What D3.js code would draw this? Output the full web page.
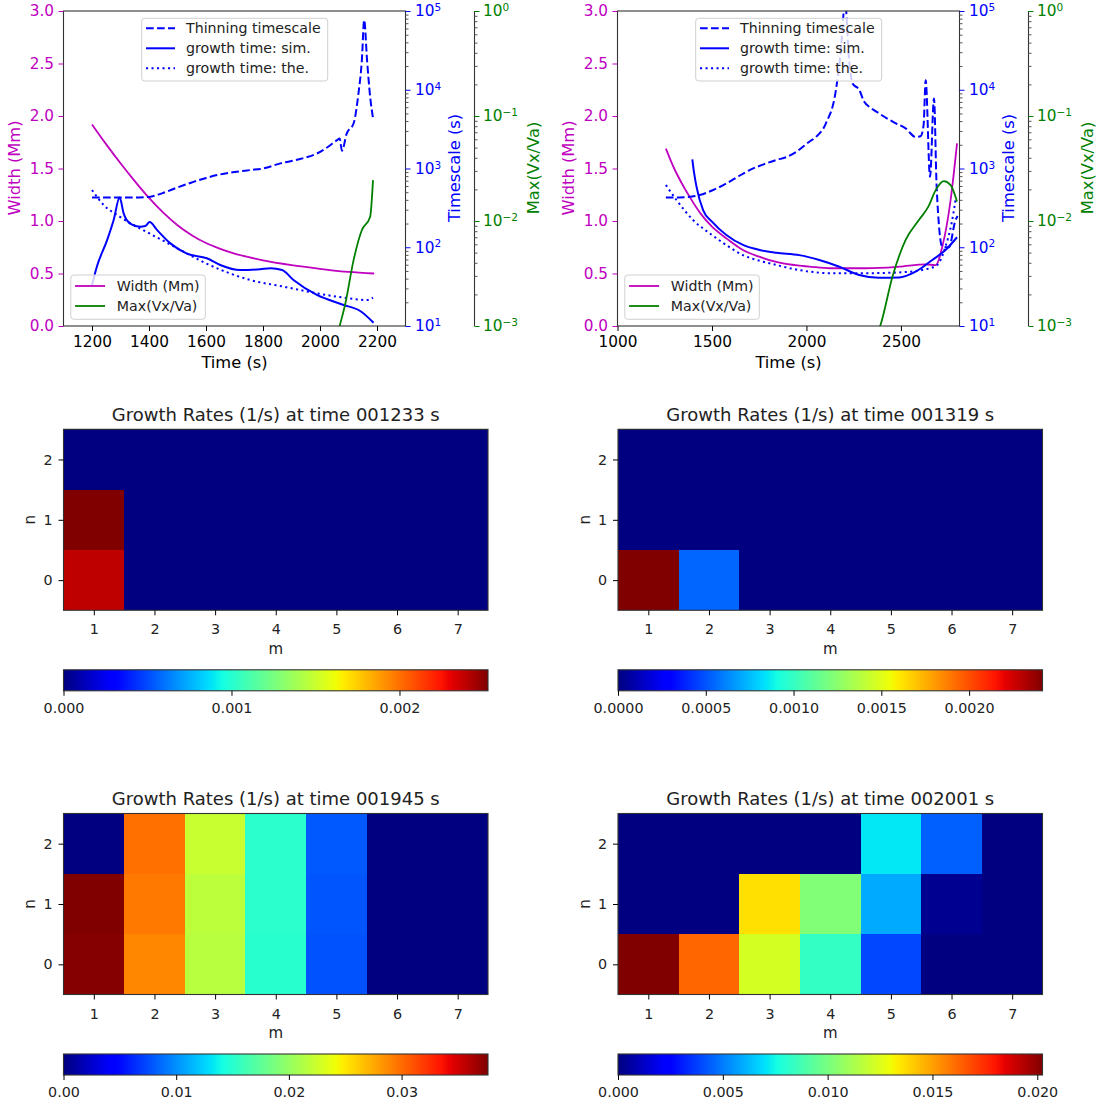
<!DOCTYPE html>
<html>
<head>
<meta charset="utf-8">
<script src="https://cdn.jsdelivr.net/npm/d3@7"></script>
<style>
body { margin: 0; background: #fff; }
text { font-family: "DejaVu Sans", sans-serif; }
</style>
</head>
<body>
<div id="chart"></div>
<script>
// ---- data ----
// left top panel: [time (s), value]
const leftWidth = [[1200,1.92],[1250,1.73],[1300,1.55],[1350,1.38],[1400,1.22],[1450,1.08],[1500,0.96],[1550,0.865],[1600,0.79],[1650,0.735],[1700,0.69],[1750,0.655],[1800,0.625],[1900,0.58],[2000,0.545],[2100,0.515],[2190,0.50]];
const leftThinning = [[1200,427],[1250,427],[1300,427],[1350,427],[1400,436],[1450,490],[1500,575],[1550,665],[1600,759],[1650,841],[1700,902],[1755,955],[1800,1000],[1861,1161],[1930,1318],[1989,1549],[2030,1905],[2060,2291],[2069,2399],[2077,1683],[2094,2799],[2118,3750],[2135,9016],[2147,23990],[2155,76900],[2165,24000],[2176,8130],[2186,4365]];
const leftSim = [[1200,33],[1217,56.6],[1253,123],[1276,222],[1297,427],[1311,269],[1334,200],[1369,182],[1387,186],[1402,209],[1428,166],[1475,112],[1533,83],[1603,72.4],[1650,59.6],[1720,51.3],[1790,52.5],[1826,54],[1867,51.3],[1907,38.4],[1989,24.8],[2083,18.5],[2141,15.5],[2188,11]];
const leftTheory = [[1200,533],[1241,344],[1297,245],[1400,151],[1500,97],[1600,62.5],[1755,38.4],[1872,31.6],[1989,26],[2083,22.9],[2165,21.4],[2186,22.9]];
const leftMaxV = [[2060,0.0008],[2069,0.001],[2089,0.00164],[2118,0.00426],[2147,0.0082],[2176,0.011],[2186,0.0245]];

// right top panel
const rightWidth = [[1256,1.69],[1300,1.50],[1340,1.36],[1382,1.23],[1440,1.07],[1500,0.946],[1580,0.83],[1664,0.724],[1750,0.66],[1840,0.61],[1962,0.574],[2050,0.56],[2138,0.55],[2314,0.55],[2490,0.565],[2631,0.587],[2684,0.58],[2719,0.755],[2763,1.2],[2797,1.74]];
const rightThinning = [[1256,427],[1303,427],[1350,432],[1435,460],[1500,525],[1576,646],[1640,794],[1699,955],[1770,1122],[1840,1282],[1900,1413],[1945,1622],[2015,2188],[2050,2512],[2103,3750],[2156,9930],[2182,32000],[2200,112000],[2205,126000],[2225,25000],[2244,12000],[2279,10000],[2305,7080],[2340,5900],[2384,5010],[2430,4270],[2473,3750],[2525,3236],[2578,2512],[2604,2570],[2620,3550],[2631,13180],[2654,787],[2675,7760],[2689,589],[2719,102],[2754,100],[2789,222],[2800,250]];
const rightSim = [[1396,1309],[1405,891],[1418,589],[1453,297],[1500,211],[1576,143],[1664,107],[1752,92.3],[1840,85.1],[1962,79.4],[2068,68.9],[2174,56.6],[2279,44.5],[2384,41],[2490,41.4],[2578,49],[2666,68.9],[2736,92.3],[2797,134]];
const rightTheory = [[1256,617],[1312,398],[1400,222],[1500,143],[1580,105],[1664,79.4],[1750,67.6],[1840,59.6],[1962,51.3],[2138,46.8],[2314,46.8],[2490,47.9],[2631,52.5],[2692,59.6],[2736,102],[2768,201],[2789,398]];
const rightMaxV = [[2380,0.0009],[2390,0.001],[2455,0.00295],[2525,0.0066],[2595,0.0102],[2645,0.0137],[2684,0.0197],[2727,0.024],[2763,0.022],[2797,0.0153]];

const widthTicks = [0, 0.5, 1.0, 1.5, 2.0, 2.5, 3.0];
const timescaleTicks = [1e1, 1e2, 1e3, 1e4, 1e5];
const maxVTicks = [1e-3, 1e-2, 1e-1, 1];
const leftTimeTicks = [1200, 1400, 1600, 1800, 2000, 2200];
const rightTimeTicks = [1000, 1500, 2000, 2500];

// growth-rate grids: rows n = 0,1,2 ; columns m = 1..7
const mValues = [1, 2, 3, 4, 5, 6, 7];
const nValues = [0, 1, 2];
const heat1233 = [
  [0.002388, 0, 0, 0, 0, 0, 0],
  [0.002527, 0, 0, 0, 0, 0, 0],
  [0, 0, 0, 0, 0, 0, 0]
];
const heat1319 = [
  [0.002418, 0.000544, 0, 0, 0, 0, 0],
  [0, 0, 0, 0, 0, 0, 0],
  [0, 0, 0, 0, 0, 0, 0]
];
const heat1945 = [
  [0.0375, 0.0289, 0.0216, 0.0150, 0.00773, 0, 0],
  [0.03767, 0.0295, 0.0218, 0.0151, 0.00785, 0, 0],
  [0, 0.0298, 0.0223, 0.0151, 0.00796, 0, 0]
];
const heat2001 = [
  [0.02025, 0.01624, 0.01229, 0.00834, 0.00395, 0, 0],
  [0, 0, 0.01363, 0.01023, 0.00591, 0.00029, 0],
  [0, 0, 0, 0, 0.00714, 0.00444, 0]
];
const ticks1233 = [0, 0.001, 0.002];
const ticks1319 = [0, 0.0005, 0.0010, 0.0015, 0.0020];
const ticks1945 = [0, 0.01, 0.02, 0.03];
const ticks2001 = [0, 0.005, 0.010, 0.015, 0.020];

// ---- drawing ----
const MAG = "#bf00bf", BLUE = "#0000ff", GREEN = "#008000", SPINE = "#333";

const svg = d3.select("#chart").append("svg")
  .attr("width", 1099)
  .attr("height", 1106)
  .style("background", "#fff");

// matplotlib jet
const jetR = d3.scaleLinear().domain([0, 0.35, 0.66, 0.89, 1]).range([0, 0, 1, 1, 0.5]).clamp(true);
const jetG = d3.scaleLinear().domain([0, 0.125, 0.375, 0.64, 0.91, 1]).range([0, 0, 1, 1, 0, 0]).clamp(true);
const jetB = d3.scaleLinear().domain([0, 0.11, 0.34, 0.65, 1]).range([0.5, 1, 1, 0, 0]).clamp(true);
const jet = t => d3.rgb(255 * jetR(t), 255 * jetG(t), 255 * jetB(t)).formatHex();
const jetPositions = [0, 0.11, 0.125, 0.34, 0.35, 0.375, 0.64, 0.65, 0.66, 0.89, 0.91, 1];

const defs = svg.append("defs");
const grad = defs.append("linearGradient").attr("id", "jetgrad")
  .attr("x1", "0%").attr("x2", "100%").attr("y1", "0%").attr("y2", "0%");
jetPositions.forEach(p => grad.append("stop").attr("offset", (p * 100) + "%").attr("stop-color", jet(p)));

function logLabels(g, scale, values, x, color) {
  values.forEach(v => {
    const e = Math.round(Math.log10(v));
    const t = g.append("text")
      .attr("x", x)
      .attr("y", scale(v))
      .attr("dy", "0.35em")
      .attr("fill", color)
      .attr("font-size", "15.3px");
    t.append("tspan").text("10");
    t.append("tspan").attr("dy", "-0.5em").attr("font-size", "10.5px")
      .text(e < 0 ? "\u2212" + (-e) : String(e));
  });
}

function minorLog(lo, hi) {
  const out = [];
  for (let e = lo; e < hi; e++)
    for (let k = 2; k <= 9; k++) out.push(k * Math.pow(10, e));
  return out;
}

function drawTop(id, x0, x1, xDomain, xTicks, widthData, thinData, simData, theData, maxData) {
  const y0 = 11, y1 = 326;
  const xs = d3.scaleLinear().domain(xDomain).range([x0, x1]);
  const yW = d3.scaleLinear().domain([0, 3]).range([y1, y0]);
  const yT = d3.scaleLog().domain([10, 1e5]).range([y1, y0]);
  const yV = d3.scaleLog().domain([1e-3, 1]).range([y1, y0]);
  const gx = x1 + 69;

  const g = svg.append("g");

  defs.append("clipPath").attr("id", "clip" + id)
    .append("rect").attr("x", x0).attr("y", y0).attr("width", x1 - x0).attr("height", y1 - y0);

  const plot = g.append("g").attr("clip-path", `url(#clip${id})`);
  const lineW = d3.line().x(d => xs(d[0])).y(d => yW(d[1])).curve(d3.curveMonotoneX);
  const lineT = d3.line().x(d => xs(d[0])).y(d => yT(d[1])).curve(d3.curveMonotoneX);
  const lineV = d3.line().x(d => xs(d[0])).y(d => yV(d[1])).curve(d3.curveMonotoneX);

  plot.append("path").attr("d", lineW(widthData)).attr("fill", "none").attr("stroke", MAG).attr("stroke-width", 1.8);
  plot.append("path").attr("d", lineT(thinData)).attr("fill", "none").attr("stroke", BLUE).attr("stroke-width", 2)
    .attr("stroke-dasharray", "7.7,3.3");
  plot.append("path").attr("d", lineT(simData)).attr("fill", "none").attr("stroke", BLUE).attr("stroke-width", 2);
  plot.append("path").attr("d", lineT(theData)).attr("fill", "none").attr("stroke", BLUE).attr("stroke-width", 2)
    .attr("stroke-dasharray", "2.1,3.4");
  plot.append("path").attr("d", lineV(maxData)).attr("fill", "none").attr("stroke", GREEN).attr("stroke-width", 1.8);

  // frame
  g.append("rect").attr("x", x0).attr("y", y0).attr("width", x1 - x0).attr("height", y1 - y0)
    .attr("fill", "none").attr("stroke", SPINE).attr("stroke-width", 1.1);
  g.append("line").attr("x1", gx).attr("x2", gx).attr("y1", y0).attr("y2", y1)
    .attr("stroke", SPINE).attr("stroke-width", 1.1);

  // bottom axis
  const ax = g.append("g").attr("transform", `translate(0,${y1})`)
    .call(d3.axisBottom(xs).tickValues(xTicks).tickSize(5).tickPadding(5.3).tickFormat(d3.format("d")));
  ax.select(".domain").remove();
  ax.selectAll(".tick line").attr("stroke", "#000");
  ax.selectAll(".tick text").attr("fill", "#000").attr("font-size", "15.3px").attr("font-family", null);

  // left axis (width)
  const ay = g.append("g").attr("transform", `translate(${x0},0)`)
    .call(d3.axisLeft(yW).tickValues(widthTicks).tickSize(5).tickPadding(4.5).tickFormat(d3.format(".1f")));
  ay.select(".domain").remove();
  ay.selectAll(".tick line").attr("stroke", MAG);
  ay.selectAll(".tick text").attr("fill", MAG).attr("font-size", "15.3px").attr("font-family", null);

  // timescale axis
  const at = g.append("g").attr("transform", `translate(${x1},0)`)
    .call(d3.axisRight(yT).tickValues(timescaleTicks).tickSize(5).tickFormat(""));
  at.select(".domain").remove();
  at.selectAll(".tick line").attr("stroke", BLUE);
  const atm = g.append("g").attr("transform", `translate(${x1},0)`)
    .call(d3.axisRight(yT).tickValues(minorLog(1, 5)).tickSize(3).tickFormat(""));
  atm.select(".domain").remove();
  atm.selectAll(".tick line").attr("stroke", "#555");
  logLabels(g, yT, timescaleTicks, x1 + 9.5, BLUE);

  // Max(Vx/Va) axis
  const av = g.append("g").attr("transform", `translate(${gx},0)`)
    .call(d3.axisRight(yV).tickValues(maxVTicks).tickSize(5).tickFormat(""));
  av.select(".domain").remove();
  av.selectAll(".tick line").attr("stroke", GREEN);
  const avm = g.append("g").attr("transform", `translate(${gx},0)`)
    .call(d3.axisRight(yV).tickValues(minorLog(-3, 0)).tickSize(3).tickFormat(""));
  avm.select(".domain").remove();
  avm.selectAll(".tick line").attr("stroke", "#555");
  logLabels(g, yV, maxVTicks, gx + 8.5, GREEN);

  // axis titles
  g.append("text").attr("x", (x0 + x1) / 2).attr("y", 368).attr("text-anchor", "middle")
    .attr("font-size", "16.3px").attr("fill", "#000").text("Time (s)");
  g.append("text").attr("transform", `translate(${x0 - 49.5},168) rotate(-90)`).attr("dy", "0.35em")
    .attr("text-anchor", "middle").attr("font-size", "16.3px").attr("fill", MAG).text("Width (Mm)");
  g.append("text").attr("transform", `translate(${x1 + 49},168) rotate(-90)`).attr("dy", "0.35em")
    .attr("text-anchor", "middle").attr("font-size", "16.3px").attr("fill", BLUE).text("Timescale (s)");
  g.append("text").attr("transform", `translate(${gx + 59},168) rotate(-90)`).attr("dy", "0.35em")
    .attr("text-anchor", "middle").attr("font-size", "16.3px").attr("fill", GREEN).text("Max(Vx/Va)");

  // legends
  function legend(bx, by, bw, bh, items, lx0, lx1, tx) {
    const lg = g.append("g");
    lg.append("rect").attr("x", bx).attr("y", by).attr("width", bw).attr("height", bh)
      .attr("rx", 3).attr("fill", "#fff").attr("fill-opacity", 0.8)
      .attr("stroke", "#d0d0d0").attr("stroke-width", 1);
    items.forEach(it => {
      lg.append("line").attr("x1", bx + lx0).attr("x2", bx + lx1).attr("y1", by + it.dy).attr("y2", by + it.dy)
        .attr("stroke", it.color).attr("stroke-width", it.w).attr("stroke-dasharray", it.dash);
      lg.append("text").attr("x", bx + tx).attr("y", by + it.dy).attr("dy", "0.35em")
        .attr("font-size", "14.2px").attr("fill", "#222").text(it.label);
    });
  }
  legend(x0 + 78.2, 18.3, 186, 62.7, [
    { label: "Thinning timescale", color: BLUE, w: 2, dash: "7.7,3.3", dy: 10 },
    { label: "growth time: sim.", color: BLUE, w: 2, dash: null, dy: 30 },
    { label: "growth time: the.", color: BLUE, w: 2, dash: "2.1,3.4", dy: 50 }
  ], 4.3, 33.3, 44.3);
  legend(x0 + 7.3, 275, 134.5, 44.3, [
    { label: "Width (Mm)", color: MAG, w: 1.8, dash: null, dy: 11 },
    { label: "Max(Vx/Va)", color: GREEN, w: 1.8, dash: null, dy: 31 }
  ], 4.3, 34.3, 46);
}

drawTop("L", 63.5, 405.5, [1100, 2300], leftTimeTicks, leftWidth, leftThinning, leftSim, leftTheory, leftMaxV);
drawTop("R", 617.5, 959.5, [1000, 2810], rightTimeTicks, rightWidth, rightThinning, rightSim, rightTheory, rightMaxV);

function drawHeat(x0, y0, grid, cbTicks, cbFormat, title) {
  const w = 424.5, h = 181;
  const xs = d3.scaleLinear().domain([0.5, 7.5]).range([x0, x0 + w]);
  const ys = d3.scaleLinear().domain([-0.5, 2.5]).range([y0 + h, y0]);
  const flat = grid.flat();
  const vmin = d3.min(flat), vmax = d3.max(flat);
  const color = d3.scaleSequential(jet).domain([vmin, vmax]);
  const g = svg.append("g");

  const cells = [];
  nValues.forEach((n, i) => mValues.forEach((m, j) => cells.push({ m, n, v: grid[i][j] })));
  g.selectAll("rect.cell").data(cells).enter().append("rect")
    .attr("class", "cell")
    .attr("x", d => xs(d.m - 0.5))
    .attr("y", d => ys(d.n + 0.5))
    .attr("width", d => xs(d.m + 0.5) - xs(d.m - 0.5))
    .attr("height", d => ys(d.n - 0.5) - ys(d.n + 0.5))
    .attr("fill", d => color(d.v))
    .attr("shape-rendering", "crispEdges");

  g.append("rect").attr("x", x0).attr("y", y0).attr("width", w).attr("height", h)
    .attr("fill", "none").attr("stroke", SPINE).attr("stroke-width", 1.1);

  const ax = g.append("g").attr("transform", `translate(0,${y0 + h})`)
    .call(d3.axisBottom(xs).tickValues(mValues).tickSize(5).tickPadding(9).tickFormat(d3.format("d")));
  ax.select(".domain").remove();
  ax.selectAll(".tick text").attr("font-size", "14.3px").attr("font-family", null).attr("fill", "#222");

  const ay = g.append("g").attr("transform", `translate(${x0},0)`)
    .call(d3.axisLeft(ys).tickValues(nValues).tickSize(5).tickPadding(6).tickFormat(d3.format("d")));
  ay.select(".domain").remove();
  ay.selectAll(".tick text").attr("font-size", "14.3px").attr("font-family", null).attr("fill", "#222");

  g.append("text").attr("x", x0 + w / 2).attr("y", y0 + h + 43.5).attr("text-anchor", "middle")
    .attr("font-size", "15px").attr("fill", "#222").text("m");
  g.append("text").attr("transform", `translate(${x0 - 33},${ys(1)}) rotate(-90)`).attr("dy", "0.3em")
    .attr("text-anchor", "middle").attr("font-size", "15px").attr("fill", "#222").text("n");

  g.append("text").attr("x", x0 + w / 2).attr("y", y0 - 8.6).attr("text-anchor", "middle")
    .attr("font-size", "18px").attr("fill", "#222").text(title);

  // colorbar
  const cy = y0 + h + 59.5, ch = 21;
  const cs = d3.scaleLinear().domain([vmin, vmax]).range([x0, x0 + w]);
  g.append("rect").attr("x", x0).attr("y", cy).attr("width", w).attr("height", ch)
    .attr("fill", "url(#jetgrad)").attr("stroke", SPINE).attr("stroke-width", 1.1);
  const ac = g.append("g").attr("transform", `translate(0,${cy + ch})`)
    .call(d3.axisBottom(cs).tickValues(cbTicks).tickSize(5).tickPadding(6.6).tickFormat(d3.format(cbFormat)));
  ac.select(".domain").remove();
  ac.selectAll(".tick text").attr("font-size", "14.3px").attr("font-family", null).attr("fill", "#222");
}

drawHeat(63.5, 429.3, heat1233, ticks1233, ".3f", "Growth Rates (1/s) at time 001233 s");
drawHeat(618, 429.3, heat1319, ticks1319, ".4f", "Growth Rates (1/s) at time 001319 s");
drawHeat(63.5, 813.5, heat1945, ticks1945, ".2f", "Growth Rates (1/s) at time 001945 s");
drawHeat(618, 813.5, heat2001, ticks2001, ".3f", "Growth Rates (1/s) at time 002001 s");
</script>
</body>
</html>
